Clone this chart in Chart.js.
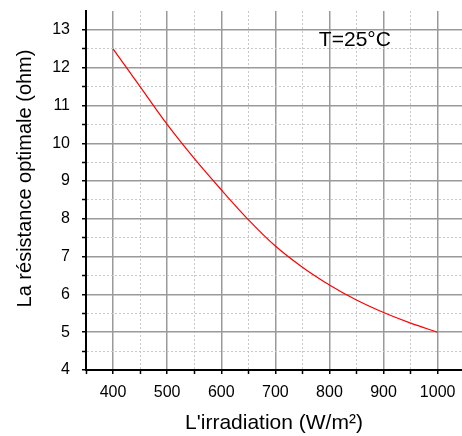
<!DOCTYPE html>
<html>
<head>
<meta charset="utf-8">
<script src="https://cdn.jsdelivr.net/npm/chart.js@4/dist/chart.umd.min.js"></script>
<style>
html,body{margin:0;padding:0;background:#fff;}
#wrap{width:462px;height:436px;position:relative;}
</style>
</head>
<body>
<div id="wrap"><canvas id="c" width="462" height="436"></canvas></div>
<script>
const irradiation = [400, 450, 500, 550, 600, 650, 700, 750, 800, 850, 900, 950, 1000];
const resistance = [12.5, 11.5, 10.5, 9.6, 8.77, 7.98, 7.28, 6.72, 6.25, 5.85, 5.52, 5.24, 5.0];
const xTickValues = [350, 400, 450, 500, 550, 600, 650, 700, 750, 800, 850, 900, 950, 1000];
const yTickValues = [4, 4.5, 5, 5.5, 6, 6.5, 7, 7.5, 8, 8.5, 9, 9.5, 10, 10.5, 11, 11.5, 12, 12.5, 13];
const xTitle = "L'irradiation (W/m²)";
const yTitle = "La résistance optimale (ohm)";
const annotationText = "T=25°C";
const annotationPos = {x: 847, y: 12.73};

const FONT = "'Liberation Sans', Arial, sans-serif";

const textPlugin = {
  id: 'texts',
  afterDatasetsDraw(chart) {
    const {ctx, scales, chartArea} = chart;
    ctx.save();
    ctx.font = "21px " + FONT;
    ctx.fillStyle = '#000';
    ctx.textAlign = 'center';
    ctx.textBaseline = 'middle';
    ctx.fillText(annotationText, scales.x.getPixelForValue(annotationPos.x), scales.y.getPixelForValue(annotationPos.y));
    ctx.restore();
    ctx.save();
    ctx.font = "20px " + FONT;
    ctx.fillStyle = '#000';
    ctx.textAlign = 'center';
    ctx.textBaseline = 'middle';
    ctx.translate(scales.y.left + 25, (chartArea.top + chartArea.bottom) / 2 - 12);
    ctx.rotate(-Math.PI / 2);
    ctx.fillText(yTitle, 0, 0);
    ctx.restore();
  }
};

const isMajorX = v => Math.abs(v % 100) < 1e-6;
const isMajorY = v => Math.abs(v - Math.round(v)) < 1e-6;

new Chart(document.getElementById('c'), {
  type: 'line',
  data: {
    datasets: [{
      data: irradiation.map((x, i) => ({x: x, y: resistance[i]})),
      borderColor: '#ff0000',
      borderWidth: 1.2,
      pointRadius: 0,
      cubicInterpolationMode: 'monotone',
      fill: false
    }]
  },
  options: {
    responsive: false,
    animation: false,
    devicePixelRatio: 1,
    layout: {padding: {left: 0, top: 11, right: 0, bottom: 0}},
    plugins: {legend: {display: false}, tooltip: {enabled: false}},
    scales: {
      x: {
        type: 'linear',
        min: 350,
        max: 1045,
        afterBuildTicks: s => { s.ticks = xTickValues.map(v => ({value: v})); },
        afterFit: s => { s.height = 66; s.paddingLeft = 0; s.paddingRight = 0; },
        ticks: {
          autoSkip: false,
          maxRotation: 0,
          padding: 9,
          color: '#000',
          font: {family: FONT, size: 16},
          callback: v => isMajorX(v) && v >= 400 ? String(v) : ''
        },
        grid: {
          color: c => c.tick && c.tick.value === 350 ? 'rgba(0,0,0,0)' : (isMajorX(c.tick.value) ? '#9a9a9a' : '#c8c8c8'),
          lineWidth: c => isMajorX(c.tick.value) ? 1.5 : 1,
          tickColor: '#000',
          tickLength: 4,
          tickWidth: 1.5,
          drawTicks: true
        },
        border: {
          display: true,
          color: '#000',
          width: 2,
          dash: c => (c.tick && !isMajorX(c.tick.value)) ? [2, 2] : []
        },
        title: {
          display: true,
          text: xTitle,
          color: '#000',
          font: {family: FONT, size: 21},
          padding: {top: 0, bottom: 0}
        }
      },
      y: {
        type: 'linear',
        min: 4,
        max: 13.5,
        afterBuildTicks: s => { s.ticks = yTickValues.map(v => ({value: v})); },
        afterFit: s => { s.width = 86; s.paddingTop = 0; s.paddingBottom = 0; },
        ticks: {
          autoSkip: false,
          padding: 12,
          color: '#000',
          font: {family: FONT, size: 16},
          callback: v => isMajorY(v) ? String(v) : ''
        },
        grid: {
          color: c => c.tick && c.tick.value === 4 ? 'rgba(0,0,0,0)' : (isMajorY(c.tick.value) ? '#9a9a9a' : '#c8c8c8'),
          lineWidth: c => isMajorY(c.tick.value) ? 1.5 : 1,
          tickColor: '#000',
          tickLength: 4,
          tickWidth: 1.5,
          drawTicks: true
        },
        border: {
          display: true,
          color: '#000',
          width: 2,
          dash: c => (c.tick && !isMajorY(c.tick.value)) ? [2, 2] : []
        },
        title: {
          display: false,
          text: yTitle
        }
      }
    }
  },
  plugins: [textPlugin]
});
</script>
</body>
</html>
